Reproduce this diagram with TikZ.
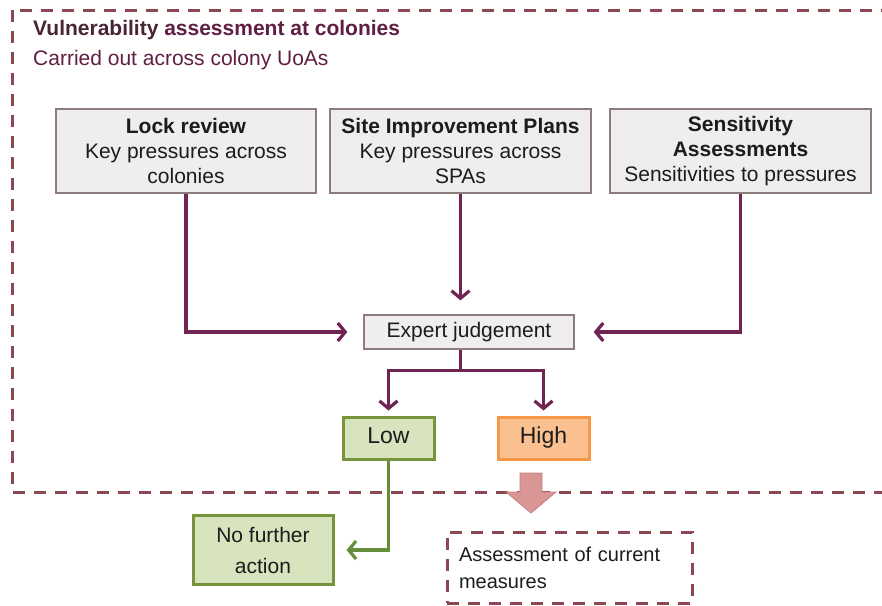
\documentclass[tikz,border=0pt]{standalone}
\usepackage{fontspec}
\setmainfont{Liberation Sans}
\usetikzlibrary{arrows.meta}

\definecolor{framedash}{RGB}{140,72,82}
\definecolor{titledark}{RGB}{72,36,52}
\definecolor{titlewine}{RGB}{96,30,66}
\definecolor{flowpurple}{RGB}{112,36,82}
\definecolor{panelfill}{RGB}{239,237,237}
\definecolor{panelline}{RGB}{140,124,126}
\definecolor{textdark}{RGB}{28,28,28}
\definecolor{lowfill}{RGB}{215,228,189}
\definecolor{lowline}{RGB}{119,147,60}
\definecolor{highfill}{RGB}{250,192,144}
\definecolor{highline}{RGB}{247,150,70}
\definecolor{greenflow}{RGB}{100,142,58}
\definecolor{pinkfill}{RGB}{217,150,148}
\definecolor{pinkline}{RGB}{196,128,128}

\begin{document}
\begin{tikzpicture}[x=1pt,y=-1pt,
  dashframe/.style={draw=framedash, line width=3pt, dash pattern=on 12pt off 9pt},
  panel/.style={draw=panelline, line width=1.3pt, fill=panelfill, minimum width=260pt,
    minimum height=84pt, align=center, inner sep=2pt, text=textdark,
    font=\fontsize{21}{25}\selectfont},
  judge/.style={draw=panelline, line width=1.3pt, fill=panelfill, minimum width=210pt,
    minimum height=34pt, inner sep=0pt, text=textdark, font=\fontsize{21}{25}\selectfont},
  verdict/.style={line width=3pt, minimum width=91pt, minimum height=42pt, inner sep=0pt,
    text height=16pt, text depth=5pt, text=textdark, font=\fontsize{23}{27}\selectfont},
  outcome/.style={draw=lowline, fill=lowfill, line width=3pt, minimum width=140pt,
    minimum height=69pt, align=center, inner sep=0pt, text=textdark,
    font=\fontsize{21}{31}\selectfont},
  flow/.style={draw=flowpurple, line width=3.2pt, line join=miter,
    -{Straight Barb[length=7.5pt,width=18pt]}},
  greenarrow/.style={draw=greenflow, line width=3.2pt,
    -{Straight Barb[length=7.5pt,width=18pt]}},
  heading/.style={anchor=base west, inner sep=0pt}
]
\clip (0,0) rectangle (882,605);

% outer dashed frame (runs off the right edge)
\draw[dashframe] (12,10) rectangle (905,492);

% heading
\node[heading, font=\fontsize{21}{25}\bfseries\selectfont, text=titlewine] (title) at (33,35)
  {\textcolor{titledark}{Vulnerability} assessment at colonies};
\node[heading, font=\fontsize{21}{25}\selectfont, text=titlewine] (subtitle) at (33,65)
  {Carried out across colony UoAs};

% input panels
\node[panel] (lock) at (186,151) {\textbf{Lock review}\\Key pressures across\\colonies};
\node[panel, minimum width=261pt] (sip) at (460.5,151) {\textbf{Site Improvement Plans}\\Key pressures across\\SPAs};
\node[panel, minimum width=261pt] (sens) at (740.5,151) {\textbf{Sensitivity}\\\textbf{Assessments}\\Sensitivities to pressures};

\node[judge] (expert) at (469,332) {Expert judgement};

\node[verdict, draw=lowline, fill=lowfill] (low) at (388.5,438) {Low};
\node[verdict, draw=highline, fill=highfill] (high) at (543.5,438) {High};

\node[outcome] (nfa) at (263,550) {No further\\action};

\node[dashframe, minimum width=245pt, minimum height=71pt, text width=221pt, align=left,
  inner sep=12pt, text=textdark, font=\fontsize{20}{27}\selectfont] (assess) at (569.5,567.5)
  {Assessment of current\\measures};

% connectors into the judgement
\draw[flow, shorten >=16pt] (lock.south) |- (expert.west);
\draw[flow, shorten >=14pt] (sip.south) -- (sip.south |- expert.north);
\draw[flow, shorten >=19pt] (sens.south) |- (expert.east);

% split into low / high
\draw[draw=flowpurple, line width=3.2pt] (sip.south |- expert.south) -- ++(0,21) coordinate (fork);
\draw[flow, shorten >=5pt] (fork) -| (low.north);
\draw[flow, shorten >=5pt] (fork) -| (high.north);

% low leads to no further action
\draw[greenarrow, shorten >=12pt] (low.south) |- (nfa.east);

% block arrow from high towards the measures assessment
\draw[fill=pinkfill, draw=pinkline, line width=0.8pt]
  (520,473) -- (542,473) -- (542,492) -- (556,492) -- (531,513) -- (506,492) -- (520,492) -- cycle;
\end{tikzpicture}
\end{document}
